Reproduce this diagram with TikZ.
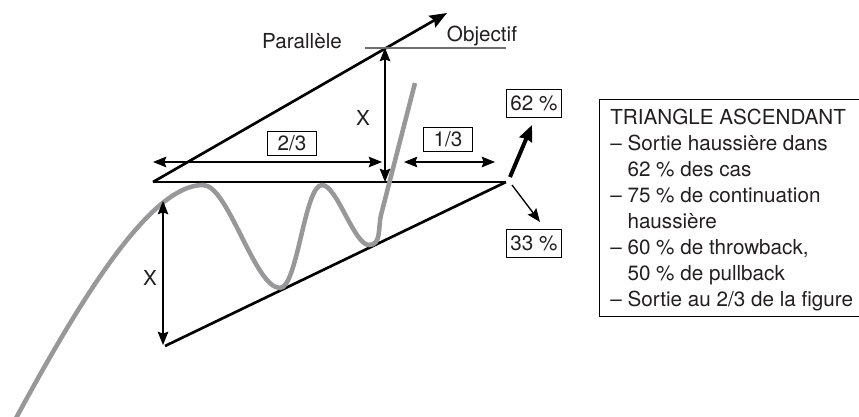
\documentclass[tikz,border=0pt]{standalone}
\usepackage{fontspec}
\setmainfont{TeX Gyre Heros}
\usetikzlibrary{arrows.meta}
\definecolor{pricegray}{RGB}{152,152,155}
\definecolor{targetgray}{RGB}{110,110,110}
\definecolor{ink}{RGB}{35,31,32}

\begin{document}
\begin{tikzpicture}[x=0.75pt,y=-0.75pt,
    font=\fontsize{15.5}{19.5}\selectfont,text=ink,
    >={Stealth[length=10pt,width=8pt,inset=1.5pt]},
    trend/.style={line width=2pt},
    dimline/.style={<->,line width=0.8pt},
    ratio/.style={draw,line width=0.7pt,inner sep=0pt,minimum width=36.75pt,minimum height=18pt},
    pct/.style={draw,line width=0.7pt,inner sep=0pt,minimum width=41.25pt,minimum height=21pt}]
  \useasboundingbox (0,0) rectangle (859,417);
  \clip (0,0) rectangle (859,417);

  % triangle
  \coordinate (L) at (153,182);
  \coordinate (R) at (506,182);
  \coordinate (S) at (165,346);
  \coordinate (P) at (447,13);
  \draw[trend] (L) -- (R);
  \draw[trend] (S) -- (R);
  \draw[trend,-{Stealth[length=13pt,width=10pt,inset=2pt]}] (L) -- (P);

  % price
  \draw[pricegray,line width=3.4pt] (15,420) .. controls (80,300) and (150,185) .. (203,185)
    to[out=0,in=180,looseness=0.5] (280,288)
    to[out=0,in=180,looseness=0.4] (322,185)
    to[out=0,in=180,looseness=0.5] (369,245)
    to[out=0,in=256] (381,215) -- (415,83);

  % objective
  \coordinate (T) at (385,48);
  \coordinate (B) at (385,182);
  \coordinate (O1) at (365,48);
  \coordinate (O2) at (506,48);
  \coordinate (XT) at (163,201);
  \coordinate (XB) at (163,345);
  \coordinate (A1) at (153,162);
  \coordinate (A2) at (382,162);
  \coordinate (A3) at (404,162);
  \coordinate (A4) at (495,162);
  \draw[targetgray,line width=0.8pt] (O1) -- (O2);
  \draw[dimline] (T) -- (B);
  \draw[dimline] (XT) -- (XB);
  \draw[dimline] (A1) -- (A2);
  \draw[dimline] (A3) -- (A4);

  \node (par) at (302,41) {Parallèle};
  \node (obj) at (482,36) {Objectif};
  \node (xup) at (363,118) {X};
  \node (xlow) at (150,278) {X};
  \node[ratio] (twothirds) at (292,143) {2/3};
  \node[ratio] (onethird) at (448,139) {1/3};
  \node[pct] (up) at (534,103) {62 \%};
  \node[pct] (down) at (534,243) {33 \%};

  % breakout
  \coordinate (Ru) at (510,177);
  \coordinate (Rd) at (512,185);
  \coordinate (uptip) at (532,125);
  \coordinate (dntip) at (540,222);
  \draw[line width=3pt,-{Stealth[length=12pt,width=10pt,inset=1pt]}] (Ru) -- (uptip);
  \draw[->,line width=1pt] (Rd) -- (dntip);

  % summary
  \draw[line width=0.7pt] (599,99) rectangle (880,316);
  \node[anchor=north west,align=left,inner sep=0pt] (info) at (610,109) {%
    TRIANGLE ASCENDANT\\
    – Sortie haussière dans\\
    \phantom{– }62 \% des cas\\
    – 75 \% de continuation\\
    \phantom{– }haussière\\
    – 60 \% de throwback,\\
    \phantom{– }50 \% de pullback\\
    – Sortie au 2/3 de la figure};
\end{tikzpicture}
\end{document}
